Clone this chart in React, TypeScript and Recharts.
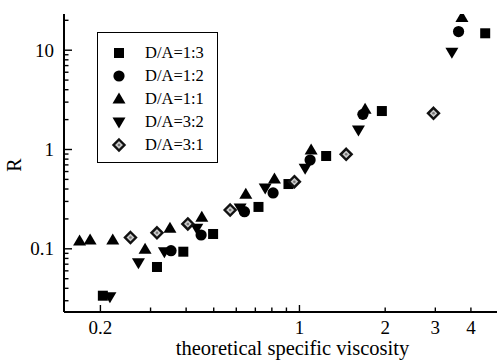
import { Scatter, ScatterChart, XAxis, YAxis } from "recharts";

// D/A ratio series: theoretical specific viscosity (x) vs R (y)
const seriesNames = ["D/A=1:3", "D/A=1:2", "D/A=1:1", "D/A=3:2", "D/A=3:1"];

const visc13 = [0.204, 0.316, 0.391, 0.4975, 0.718, 0.915, 1.241, 1.947, 4.49];
const r13 = [0.0337, 0.0656, 0.0935, 0.141, 0.264, 0.449, 0.86, 2.44, 14.8];

const visc12 = [0.354, 0.4515, 0.641, 0.808, 1.09, 1.67, 3.62];
const r12 = [0.0957, 0.1377, 0.2363, 0.365, 0.784, 2.26, 15.4];

const visc11 = [0.169, 0.184, 0.221, 0.287, 0.351, 0.454, 0.648, 0.817, 1.099, 1.7, 3.72];
const r11 = [0.12, 0.1226, 0.1226, 0.0989, 0.161, 0.2076, 0.354, 0.505, 0.988, 2.54, 21.4];

const visc32 = [0.216, 0.272, 0.3355, 0.436, 0.619, 0.758, 1.047, 1.611, 3.43];
const r32 = [0.0329, 0.0724, 0.0935, 0.161, 0.258, 0.41, 0.647, 1.572, 9.53];

const visc31 = [0.255, 0.316, 0.4055, 0.571, 0.96, 1.459, 2.956];
const r31 = [0.13, 0.145, 0.178, 0.246, 0.474, 0.895, 2.315];

const xTicks = [0.2, 0.3, 0.4, 0.5, 0.6, 0.7, 0.8, 0.9, 1, 2, 3, 4];
const xLabels = [0.2, 1, 2, 3, 4];
const yTicks = [
  0.03, 0.04, 0.05, 0.06, 0.07, 0.08, 0.09, 0.1, 0.2, 0.3, 0.4, 0.5, 0.6, 0.7,
  0.8, 0.9, 1, 2, 3, 4, 5, 6, 7, 8, 9, 10, 20,
];
const yLabels = [0.1, 1, 10];

type Kind = "square" | "circle" | "up" | "down" | "diamond";
const kinds: Kind[] = ["square", "circle", "up", "down", "diamond"];

const FONT = "'Liberation Serif', 'Times New Roman', serif";

const toPoints = (xs: number[], ys: number[]) => xs.map((x, i) => ({ x, y: ys[i] }));

const series = [
  toPoints(visc13, r13),
  toPoints(visc12, r12),
  toPoints(visc11, r11),
  toPoints(visc32, r32),
  toPoints(visc31, r31),
];

function Marker({ kind, cx, cy }: { kind: Kind; cx: number; cy: number }) {
  switch (kind) {
    case "square":
      return <rect x={cx - 5} y={cy - 5} width={10} height={10} fill="#000" />;
    case "circle":
      return <circle cx={cx} cy={cy} r={5.6} fill="#000" />;
    case "up":
      return (
        <polygon
          points={`${cx},${cy - 6.5} ${cx + 6.5},${cy + 4.5} ${cx - 6.5},${cy + 4.5}`}
          fill="#000"
        />
      );
    case "down":
      return (
        <polygon
          points={`${cx - 6.5},${cy - 4.5} ${cx + 6.5},${cy - 4.5} ${cx},${cy + 6.5}`}
          fill="#000"
        />
      );
    default:
      return (
        <g>
          <polygon
            points={`${cx},${cy - 5.5} ${cx + 5.5},${cy} ${cx},${cy + 5.5} ${cx - 5.5},${cy}`}
            fill="#c9c9c9"
            stroke="#111"
            strokeWidth={2.4}
          />
          <circle cx={cx} cy={cy} r={1.3} fill="#777" />
        </g>
      );
  }
}

function YTick(props: any) {
  const { x, y, payload } = props;
  const major = yLabels.includes(payload.value);
  return (
    <g>
      <line x1={x} x2={x + (major ? 8 : 4.5)} y1={y} y2={y} stroke="#000" strokeWidth={1.4} />
      {major && (
        <text x={x - 10} y={y} dy={6.5} textAnchor="end" fontSize={19} fontFamily={FONT} fill="#000">
          {payload.value}
        </text>
      )}
    </g>
  );
}

function XTick(props: any) {
  const { x, y, payload } = props;
  const labelled = xLabels.includes(payload.value);
  const long = payload.value === 1 || payload.value === 0.2;
  return (
    <g>
      <line x1={x} x2={x} y1={y} y2={y - (long ? 7 : 4.5)} stroke="#000" strokeWidth={1.4} />
      {labelled && (
        <text x={x} y={y + 22} textAnchor="middle" fontSize={19} fontFamily={FONT} fill="#000">
          {payload.value}
        </text>
      )}
    </g>
  );
}

export default function App() {
  return (
    <div
      style={{
        position: "absolute",
        left: 0,
        top: 0,
        width: 497,
        height: 360,
        overflow: "hidden",
        background: "#fff",
        fontFamily: FONT,
      }}
    >
      <ScatterChart width={500} height={360} margin={{ top: 14, right: 1, bottom: 0, left: 0 }}>
        <XAxis
          xAxisId="top"
          orientation="top"
          dataKey="x"
          type="number"
          scale="log"
          domain={[0.149, 5.02]}
          allowDataOverflow
          height={0}
          tick={false}
          tickLine={false}
          axisLine={{ stroke: "#000", strokeWidth: 2 }}
        />
        <XAxis
          dataKey="x"
          type="number"
          scale="log"
          domain={[0.149, 5.02]}
          allowDataOverflow
          ticks={xTicks}
          interval={0}
          height={48}
          tickSize={0}
          tickMargin={0}
          tickLine={false}
          tick={<XTick />}
          axisLine={{ stroke: "#000", strokeWidth: 2 }}
          label={(p: any) => (
            <text
              x={p.viewBox.x + p.viewBox.width / 2 + 11}
              y={p.viewBox.y + 43}
              textAnchor="middle"
              fontSize={20.5}
              fontFamily={FONT}
              fill="#000"
            >
              theoretical specific viscosity
            </text>
          )}
        />
        <YAxis
          dataKey="y"
          type="number"
          scale="log"
          domain={[0.0231, 23.15]}
          allowDataOverflow
          ticks={yTicks}
          interval={0}
          width={64}
          tickSize={0}
          tickMargin={0}
          tickLine={false}
          tick={<YTick />}
          axisLine={{ stroke: "#000", strokeWidth: 2 }}
          label={(p: any) => {
            const cx = p.viewBox.x + 14;
            const cy = p.viewBox.y + p.viewBox.height / 2 + 2;
            return (
              <text
                x={cx}
                y={cy}
                textAnchor="middle"
                fontSize={20}
                fontFamily={FONT}
                fill="#000"
                transform={`rotate(-90 ${cx} ${cy})`}
                dy={7}
              >
                R
              </text>
            );
          }}
        />
        {series.map((data, i) => (
          <Scatter
            key={seriesNames[i]}
            name={seriesNames[i]}
            data={data}
            isAnimationActive={false}
            shape={(p: any) => <Marker kind={kinds[i]} cx={p.cx} cy={p.cy} />}
          />
        ))}
      </ScatterChart>

      <div
        style={{
          position: "absolute",
          left: 97,
          top: 32,
          width: 121,
          height: 131,
          boxSizing: "border-box",
          border: "1.5px solid #000",
          background: "#fff",
        }}
      >
        {seriesNames.map((name, i) => (
          <div
            key={name}
            style={{
              position: "absolute",
              left: 0,
              top: 9 + i * 22.8,
              height: 22.8,
              display: "flex",
              alignItems: "center",
            }}
          >
            <svg width={16} height={16} style={{ marginLeft: 13 }}>
              <Marker kind={kinds[i]} cx={8} cy={8} />
            </svg>
            <span style={{ marginLeft: 18, fontSize: 16.5, color: "#000", whiteSpace: "nowrap" }}>{name}</span>
          </div>
        ))}
      </div>
    </div>
  );
}
